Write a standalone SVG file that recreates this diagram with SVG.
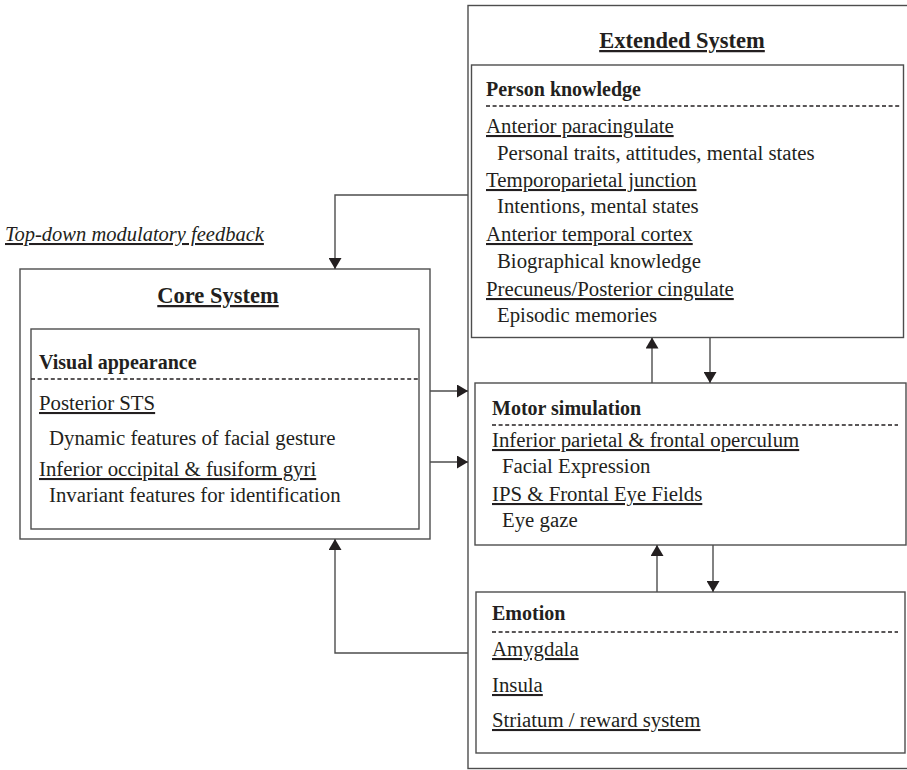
<svg xmlns="http://www.w3.org/2000/svg" width="907" height="770" viewBox="0 0 907 770">
<defs>
<style>
.box{fill:none;stroke:#4d4d4d;stroke-width:1.4}
.dash{fill:none;stroke:#231f20;stroke-width:1.3;stroke-dasharray:4 2.6}
.conn{fill:none;stroke:#4d4d4d;stroke-width:1.4}
text{font-family:"Liberation Serif","Times New Roman",serif;fill:#231f20;font-size:20.8px}
.title{font-size:22.5px;font-weight:bold;text-decoration:underline;text-anchor:middle}
.head{font-weight:bold;font-size:20px}
.u{text-decoration:underline}
.it{font-style:italic;text-decoration:underline;font-size:20.5px}
</style>
<marker id="ah" viewBox="0 0 11 13" refX="11" refY="6.5" markerWidth="11" markerHeight="13" markerUnits="userSpaceOnUse" orient="auto">
<path d="M0,0 L11,6.5 L0,13 z" fill="#231f20"/>
</marker>
</defs>
<rect width="907" height="770" fill="#fff"/>

<g id="extended-system">
<rect class="box" x="468" y="5.5" width="460" height="763"/>
<text class="title" x="682" y="48">Extended System</text>
</g>

<g id="person-knowledge">
<rect class="box" x="471.5" y="65" width="432" height="272.5"/>
<text class="head" x="486" y="96">Person knowledge</text>
<line class="dash" x1="486" y1="106" x2="901" y2="106"/>
<text class="u" x="486" y="133">Anterior paracingulate</text>
<text x="497" y="160">Personal traits, attitudes, mental states</text>
<text class="u" x="486" y="187">Temporoparietal junction</text>
<text x="497" y="213">Intentions, mental states</text>
<text class="u" x="486" y="241">Anterior temporal cortex</text>
<text x="497" y="268">Biographical knowledge</text>
<text class="u" x="486" y="296">Precuneus/Posterior cingulate</text>
<text x="497" y="322">Episodic memories</text>
</g>

<g id="motor-simulation">
<rect class="box" x="475" y="383" width="431" height="162"/>
<text class="head" x="492" y="415">Motor simulation</text>
<line class="dash" x1="492" y1="425" x2="898" y2="425"/>
<text class="u" x="492" y="447">Inferior parietal &amp; frontal operculum</text>
<text x="502" y="473">Facial Expression</text>
<text class="u" x="492" y="501">IPS &amp; Frontal Eye Fields</text>
<text x="502" y="527">Eye gaze</text>
</g>

<g id="emotion">
<rect class="box" x="476" y="592" width="429" height="161"/>
<text class="head" x="492" y="620">Emotion</text>
<line class="dash" x1="492" y1="632" x2="898" y2="632"/>
<text class="u" x="492" y="656">Amygdala</text>
<text class="u" x="492" y="692">Insula</text>
<text class="u" x="492" y="727">Striatum / reward system</text>
</g>

<g id="core-system">
<rect class="box" x="20" y="269" width="410" height="270"/>
<text class="title" x="218" y="303">Core System</text>
</g>

<g id="visual-appearance">
<rect class="box" x="31" y="329" width="388" height="200"/>
<text class="head" x="39" y="369">Visual appearance</text>
<line class="dash" x1="31" y1="379" x2="419" y2="379"/>
<text class="u" x="39" y="410">Posterior STS</text>
<text x="49" y="445">Dynamic features of facial gesture</text>
<text class="u" x="39" y="476">Inferior occipital &amp; fusiform gyri</text>
<text x="49" y="502">Invariant features for identification</text>
</g>

<g id="feedback-label">
<text class="it" x="5" y="241">Top-down modulatory feedback</text>
</g>

<g id="connectors">
<path class="conn" d="M468,195 H335 V269" marker-end="url(#ah)"/>
<path class="conn" d="M468,653 H335 V539" marker-end="url(#ah)"/>
<path class="conn" d="M430,391 H468" marker-end="url(#ah)"/>
<path class="conn" d="M430,462 H468" marker-end="url(#ah)"/>
<path class="conn" d="M652,383 V337.5" marker-end="url(#ah)"/>
<path class="conn" d="M710,337.5 V383" marker-end="url(#ah)"/>
<path class="conn" d="M657,592 V545" marker-end="url(#ah)"/>
<path class="conn" d="M713,545 V592" marker-end="url(#ah)"/>
</g>
</svg>
